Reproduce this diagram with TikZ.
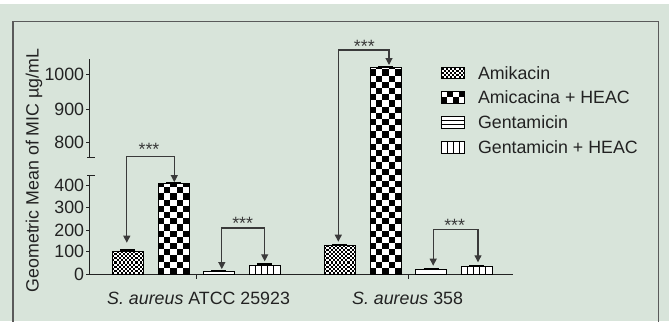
\documentclass[tikz,border=0pt]{standalone}
\usepackage{fontspec}
\setmainfont{Liberation Sans}
\usetikzlibrary{arrows.meta,calc}
\definecolor{bgc}{HTML}{D8E4DA}
\definecolor{framec}{HTML}{5A5A5A}
\definecolor{txtc}{HTML}{222222}
\definecolor{sigc}{HTML}{3A3A3A}
\newcommand\chkfill[3]{%
  \foreach \j in {0,...,#3}{\foreach \i in {0,...,#2}{%
    \pgfmathtruncatemacro\cpar{mod(\i+\j,2)}%
    \ifnum\cpar=0
      \fill[black] ([xshift=\i*#1,yshift=\j*#1]path picture bounding box.south west) rectangle ++(#1,#1);
    \fi}}}
\tikzset{
  bar/.style={draw=black, line width=0.9bp, fill=white, inner sep=0pt, outer sep=0pt,
    minimum width=31bp, anchor=south west},
  swatch/.style={draw=black, line width=0.8bp, fill=white, inner sep=0pt, outer sep=0pt,
    minimum width=23bp, minimum height=11.5bp},
  chk/.style n args={3}{path picture={\chkfill{#1}{#2}{#3}}},
  hlines/.style={path picture={\foreach \j in {1,2}{\draw[line width=0.8bp] ([yshift=\j*#1]path picture bounding box.south west) -- ++(40bp,0);}}},
  vlines/.style={path picture={\foreach \i in {1,...,4}{\draw[line width=0.8bp] ([xshift=\i*#1]path picture bounding box.south west) -- ++(0,60bp);}}},
  errcap/.style={line width=1.1bp, black},
  axisline/.style={line width=1bp, txtc},
  ticklbl/.style={anchor=east, inner sep=0pt, text=txtc},
  legtxt/.style={anchor=west, inner sep=0pt, text=txtc},
  sig/.style={line width=1.1bp, sigc, {Triangle[length=7bp,width=7bp]}-{Triangle[length=7bp,width=7bp]}},
  stars/.style={anchor=base, inner sep=0pt, text=sigc},
}
\begin{document}
\begin{tikzpicture}[x=1bp,y=-1bp,font=\fontsize{17.8bp}{21bp}\selectfont]
\useasboundingbox (0,0) rectangle (669,321);
% background
\fill[white] (0,0) rectangle (669,4);
\fill[bgc] (0,4) rectangle (669,321);
\draw[framec, line width=1.3bp] (13,340) -- (13,21.5) -- (658.7,21.5) -- (658.7,340);

% y axis (broken)
\draw[axisline] (89.6,59.3) -- (89.6,157.7);
\draw[axisline] (87.3,157.7) -- (94.5,157.7);
\draw[axisline] (87.3,175) -- (94.5,175);
\draw[axisline] (89.6,175) -- (89.6,274);
\foreach \v/\y in {1000/74.3,900/109,800/142,400/185.3,300/207.7,200/230,100/251.7,0/274}{
  \draw[axisline] (86,\y) -- (89.6,\y);
  \node[ticklbl] (tl\v) at (84.3,\y) {\v};
}
% x axis
\draw[axisline] (89.6,274) -- (513.3,274);
\draw[axisline] (196.2,274) -- (196.2,278.5);
\draw[axisline] (408.3,274) -- (408.3,278.5);

% axis labels
\node[rotate=90, text=txtc] (ylab) at (34,170.5) {Geometric Mean of MIC µg/mL};
\node[text=txtc] (xl1) at (198.6,298.3) {\textit{S. aureus} ATCC 25923};
\node[text=txtc] (xl2) at (407.6,298.3) {\textit{S. aureus} 358};

% bars
\node[bar, chk={2.1bp}{15}{15}, minimum height=23bp] (b1) at (112.3,274) {};
\node[bar, chk={6.2bp}{5}{35}, minimum height=90.7bp] (b2) at (158,274) {};
\node[bar, minimum height=2.7bp] (b3) at (203.3,274) {};
\node[bar, vlines=6.2bp, minimum height=9bp] (b4) at (249,274) {};
\node[bar, chk={2.1bp}{15}{15}, minimum height=28.7bp] (b5) at (324.3,274) {};
\node[bar, chk={6.2bp}{5}{35}, minimum height=206.7bp] (b6) at (370,274) {};
\node[bar, minimum height=4.7bp] (b7) at (415.7,274) {};
\node[bar, vlines=6.2bp, minimum height=7.3bp] (b8) at (461,274) {};
\foreach \b in {b1,b2,b3,b4,b5,b6,b7,b8}{
  \draw[errcap] ([xshift=-7.5bp,yshift=1bp]\b.north) -- ([xshift=7.5bp,yshift=1bp]\b.north);
}

% significance brackets
\coordinate (k1) at (0,156.7);
\coordinate (k2) at (0,228);
\coordinate (k3) at (0,50);
\coordinate (k4) at (0,229.3);
\draw[sig] ($(b1.north)+(-1,-8.3)$) -- ($(b1.north |- k1)+(-1,0)$) -- ($(b2.north |- k1)+(0.8,0)$) -- ($(b2.north)+(0.8,-1.2)$);
\draw[sig] ($(b3.north)+(3,-2.2)$) -- ($(b3.north |- k2)+(3,0)$) -- ($(b4.north |- k2)+(0.2,0)$) -- ($(b4.north)+(0.2,-3.7)$);
\draw[sig] ($(b5.north)+(-1.5,-3.6)$) -- ($(b5.north |- k3)+(-1.5,0)$) -- ($(b6.north |- k3)+(3.5,0)$) -- ($(b6.north)+(3.5,-2.3)$);
\draw[sig] ($(b7.north)+(2,-3.6)$) -- ($(b7.north |- k4)+(2,0)$) -- ($(b8.north |- k4)+(1.5,0)$) -- ($(b8.north)+(1.5,-4.4)$);
\node[stars] (st1) at (149,155) {***};
\node[stars] (st2) at (242.7,229) {***};
\node[stars] (st3) at (364.3,52.5) {***};
\node[stars] (st4) at (454.7,231) {***};

% legend
\node[swatch, chk={2.1bp}{11}{6}] (s1) at (453.2,72.8) {};
\node[swatch, chk={5.75bp}{4}{2}] (s2) at (453.2,97.2) {};
\node[swatch, hlines=3.83bp] (s3) at (453.2,122.5) {};
\node[swatch, vlines=5.75bp] (s4) at (453.2,147.2) {};
\node[legtxt] (t1) at (477.8,72.8) {Amikacin};
\node[legtxt] (t2) at (477.8,97.2) {Amicacina + HEAC};
\node[legtxt] (t3) at (477.8,122.5) {Gentamicin};
\node[legtxt] (t4) at (477.8,147.2) {Gentamicin + HEAC};
\end{tikzpicture}
\end{document}
